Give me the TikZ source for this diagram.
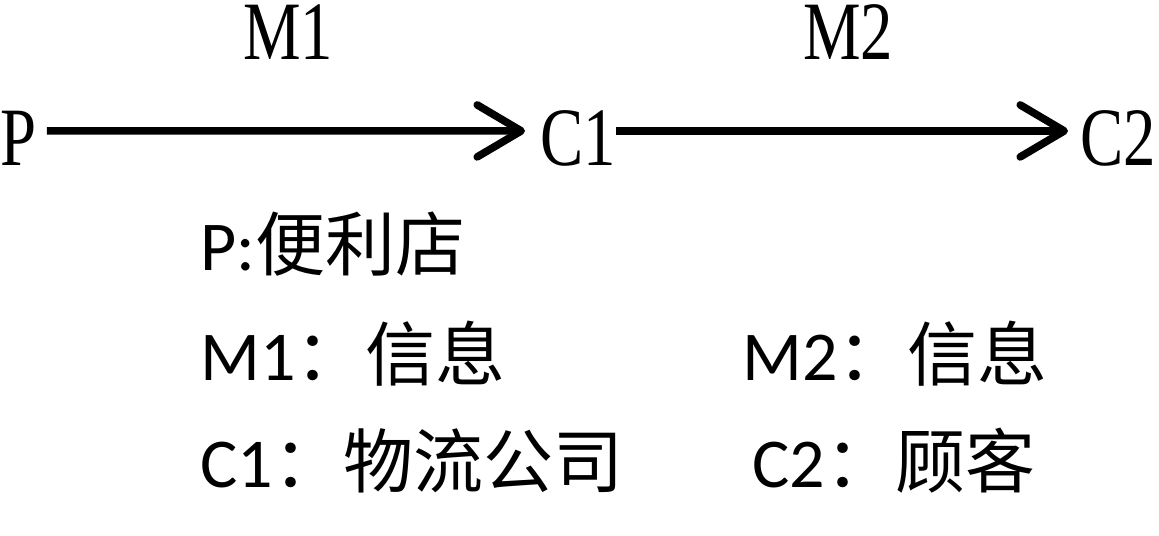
\documentclass[tikz,border=0pt]{standalone}
\usepackage{fontspec}
\setmainfont{Carlito}
\newfontfamily\cjk{Noto Sans CJK SC}
\newfontfamily\narrowserif[FakeStretch=0.78]{Liberation Serif}
\usetikzlibrary{arrows.meta,positioning}

\begin{document}
\begin{tikzpicture}[x=0.5pt,y=-0.5pt,
  tag/.style={font=\narrowserif\fontsize{41.5}{45}\selectfont,inner sep=0pt},
  legend/.style={font=\fontsize{35}{40}\selectfont,inner sep=0pt,anchor=base west},
  flow/.style={line width=3.8pt,-{Straight Barb[length=22pt,width=26pt,round]}}]
  \useasboundingbox (0,0) rectangle (1159,535);
  % chain P -> C1 -> C2
  \node[tag,anchor=base west] (p)  at (0,165)    {P};
  \node[tag,anchor=base west] (c1) at (540,165)  {C1};
  \node[tag,anchor=base west] (c2) at (1080,165) {C2};
  \draw[flow,shorten <=5pt,shorten >=7.5pt] ([yshift=3.5pt]p.east) -- ([yshift=3.5pt]c1.west)
    node[tag,midway,above=34pt] (m1) {M1};
  \draw[flow,shorten >=6pt] ([yshift=3.5pt]c1.east) -- ([yshift=3.5pt]c2.west)
    node[tag,midway,above=34pt] (m2) {M2};
  % legend
  \node[legend] (legp)  at (200,270) {P:{\cjk 便利店}};
  \node[legend] (legm1) at (200,380) {M1{\cjk ：信息}};
  \node[legend] (legc1) at (200,487) {C1{\cjk ：物流公司}};
  \node[legend] (legm2) at (742,380) {M2{\cjk ：信息}};
  \node[legend] (legc2) at (752,487) {C2{\cjk ：顾客}};
\end{tikzpicture}
\end{document}
